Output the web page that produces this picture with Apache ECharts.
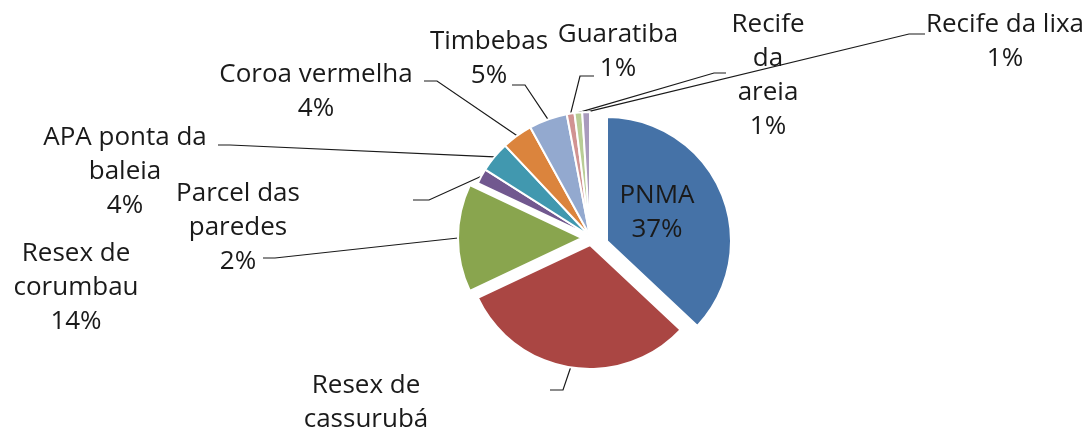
<!DOCTYPE html>
<html>
<head>
<meta charset="utf-8">
<script src="https://cdn.jsdelivr.net/npm/echarts@6/dist/echarts.min.js"></script>
<style>
  html, body { margin: 0; background: #fff; }
  #chart { width: 1091px; height: 431px; }
</style>
</head>
<body>
<div id="chart"></div>
<script>
const names = ['PNMA', 'Resex de cassurubá', 'Resex de corumbau', 'Parcel das paredes', 'APA ponta da baleia',
    'Coroa vermelha', 'Timbebas', 'Guaratiba', 'Recife da areia', 'Recife da lixa'];
const values = [37, 31, 14, 2, 4, 4, 5, 1, 1, 1];
const colors = ['#4572A7', '#AA4643', '#89A54E', '#71588F', '#4198AF',
    '#DB843D', '#93A9CF', '#D19392', '#B9CD96', '#A99BBD'];

// where each label sits: centre x, centre of first line, wrap length, leader line bends
const labelPos = [
    { x: 657, y: 196, wrap: 6, line: null },
    { x: 366, y: 386, wrap: 10, line: [[563, 390], [550, 390]] },
    { x: 76, y: 254, wrap: 10, line: [[275, 258], [263, 258]] },
    { x: 238, y: 194, wrap: 10, line: [[429, 200], [413, 200]] },
    { x: 125, y: 138, wrap: 12, line: [[230, 145], [218, 145]] },
    { x: 316, y: 75, wrap: 14, line: [[437, 81], [424, 81]] },
    { x: 489, y: 42, wrap: 10, line: [[525, 85], [512, 85]] },
    { x: 618, y: 35, wrap: 10, line: [[580, 76], [594, 76]] },
    { x: 768, y: 25, wrap: 6, line: [[714, 73], [726, 73]] },
    { x: 1005, y: 25, wrap: 14, line: [[909, 34], [925, 34]] }
];

// exploded pieces get their own centre
const groups = [
    { items: [0], center: [607, 241] },
    { items: [1], center: [590, 245] },
    { items: [2], center: [582, 238] },
    { items: [3, 4, 5, 6, 7, 8, 9], center: [590, 236] }
];

function wrap(text, max) {
    const lines = [];
    let cur = '';
    text.split(' ').forEach(w => {
        if (cur && (cur + ' ' + w).length > max) {
            lines.push(cur);
            cur = w;
        } else {
            cur = cur ? cur + ' ' + w : w;
        }
    });
    lines.push(cur);
    return lines.join('\n');
}

const chart = echarts.init(document.getElementById('chart'));

const series = groups.map(g => ({
    type: 'pie',
    center: g.center,
    radius: 124,
    startAngle: 90,
    avoidLabelOverlap: false,
    silent: true,
    data: names.map((n, i) => {
        const on = g.items.includes(i);
        return {
            name: n,
            value: values[i],
            itemStyle: on
                ? { color: colors[i], borderColor: '#fff', borderWidth: 2 }
                : { color: 'rgba(0,0,0,0)', borderWidth: 0 },
            label: { show: on },
            labelLine: { show: on && labelPos[i].line != null }
        };
    }),
    label: {
        position: 'outside',
        formatter: p => wrap(p.name, labelPos[p.dataIndex].wrap) + '\n' + Math.round(p.percent) + '%',
        fontFamily: 'Open Sans',
        fontSize: 26,
        lineHeight: 34,
        color: '#1a1a1a',
        align: 'center'
    },
    labelLine: {
        length: 10,
        length2: 10,
        lineStyle: { color: '#1a1a1a', width: 1.2 }
    },
    labelLayout: p => {
        const lp = labelPos[p.dataIndex];
        const out = { x: lp.x, y: lp.y - 17, align: 'center', verticalAlign: 'top' };
        if (lp.line && p.labelLinePoints) {
            out.labelLinePoints = [p.labelLinePoints[0]].concat(lp.line);
        }
        return out;
    }
}));

chart.setOption({
    animation: false,
    series: series
});

new ResizeObserver(() => chart.resize()).observe(document.getElementById('chart'));
</script>
</body>
</html>
